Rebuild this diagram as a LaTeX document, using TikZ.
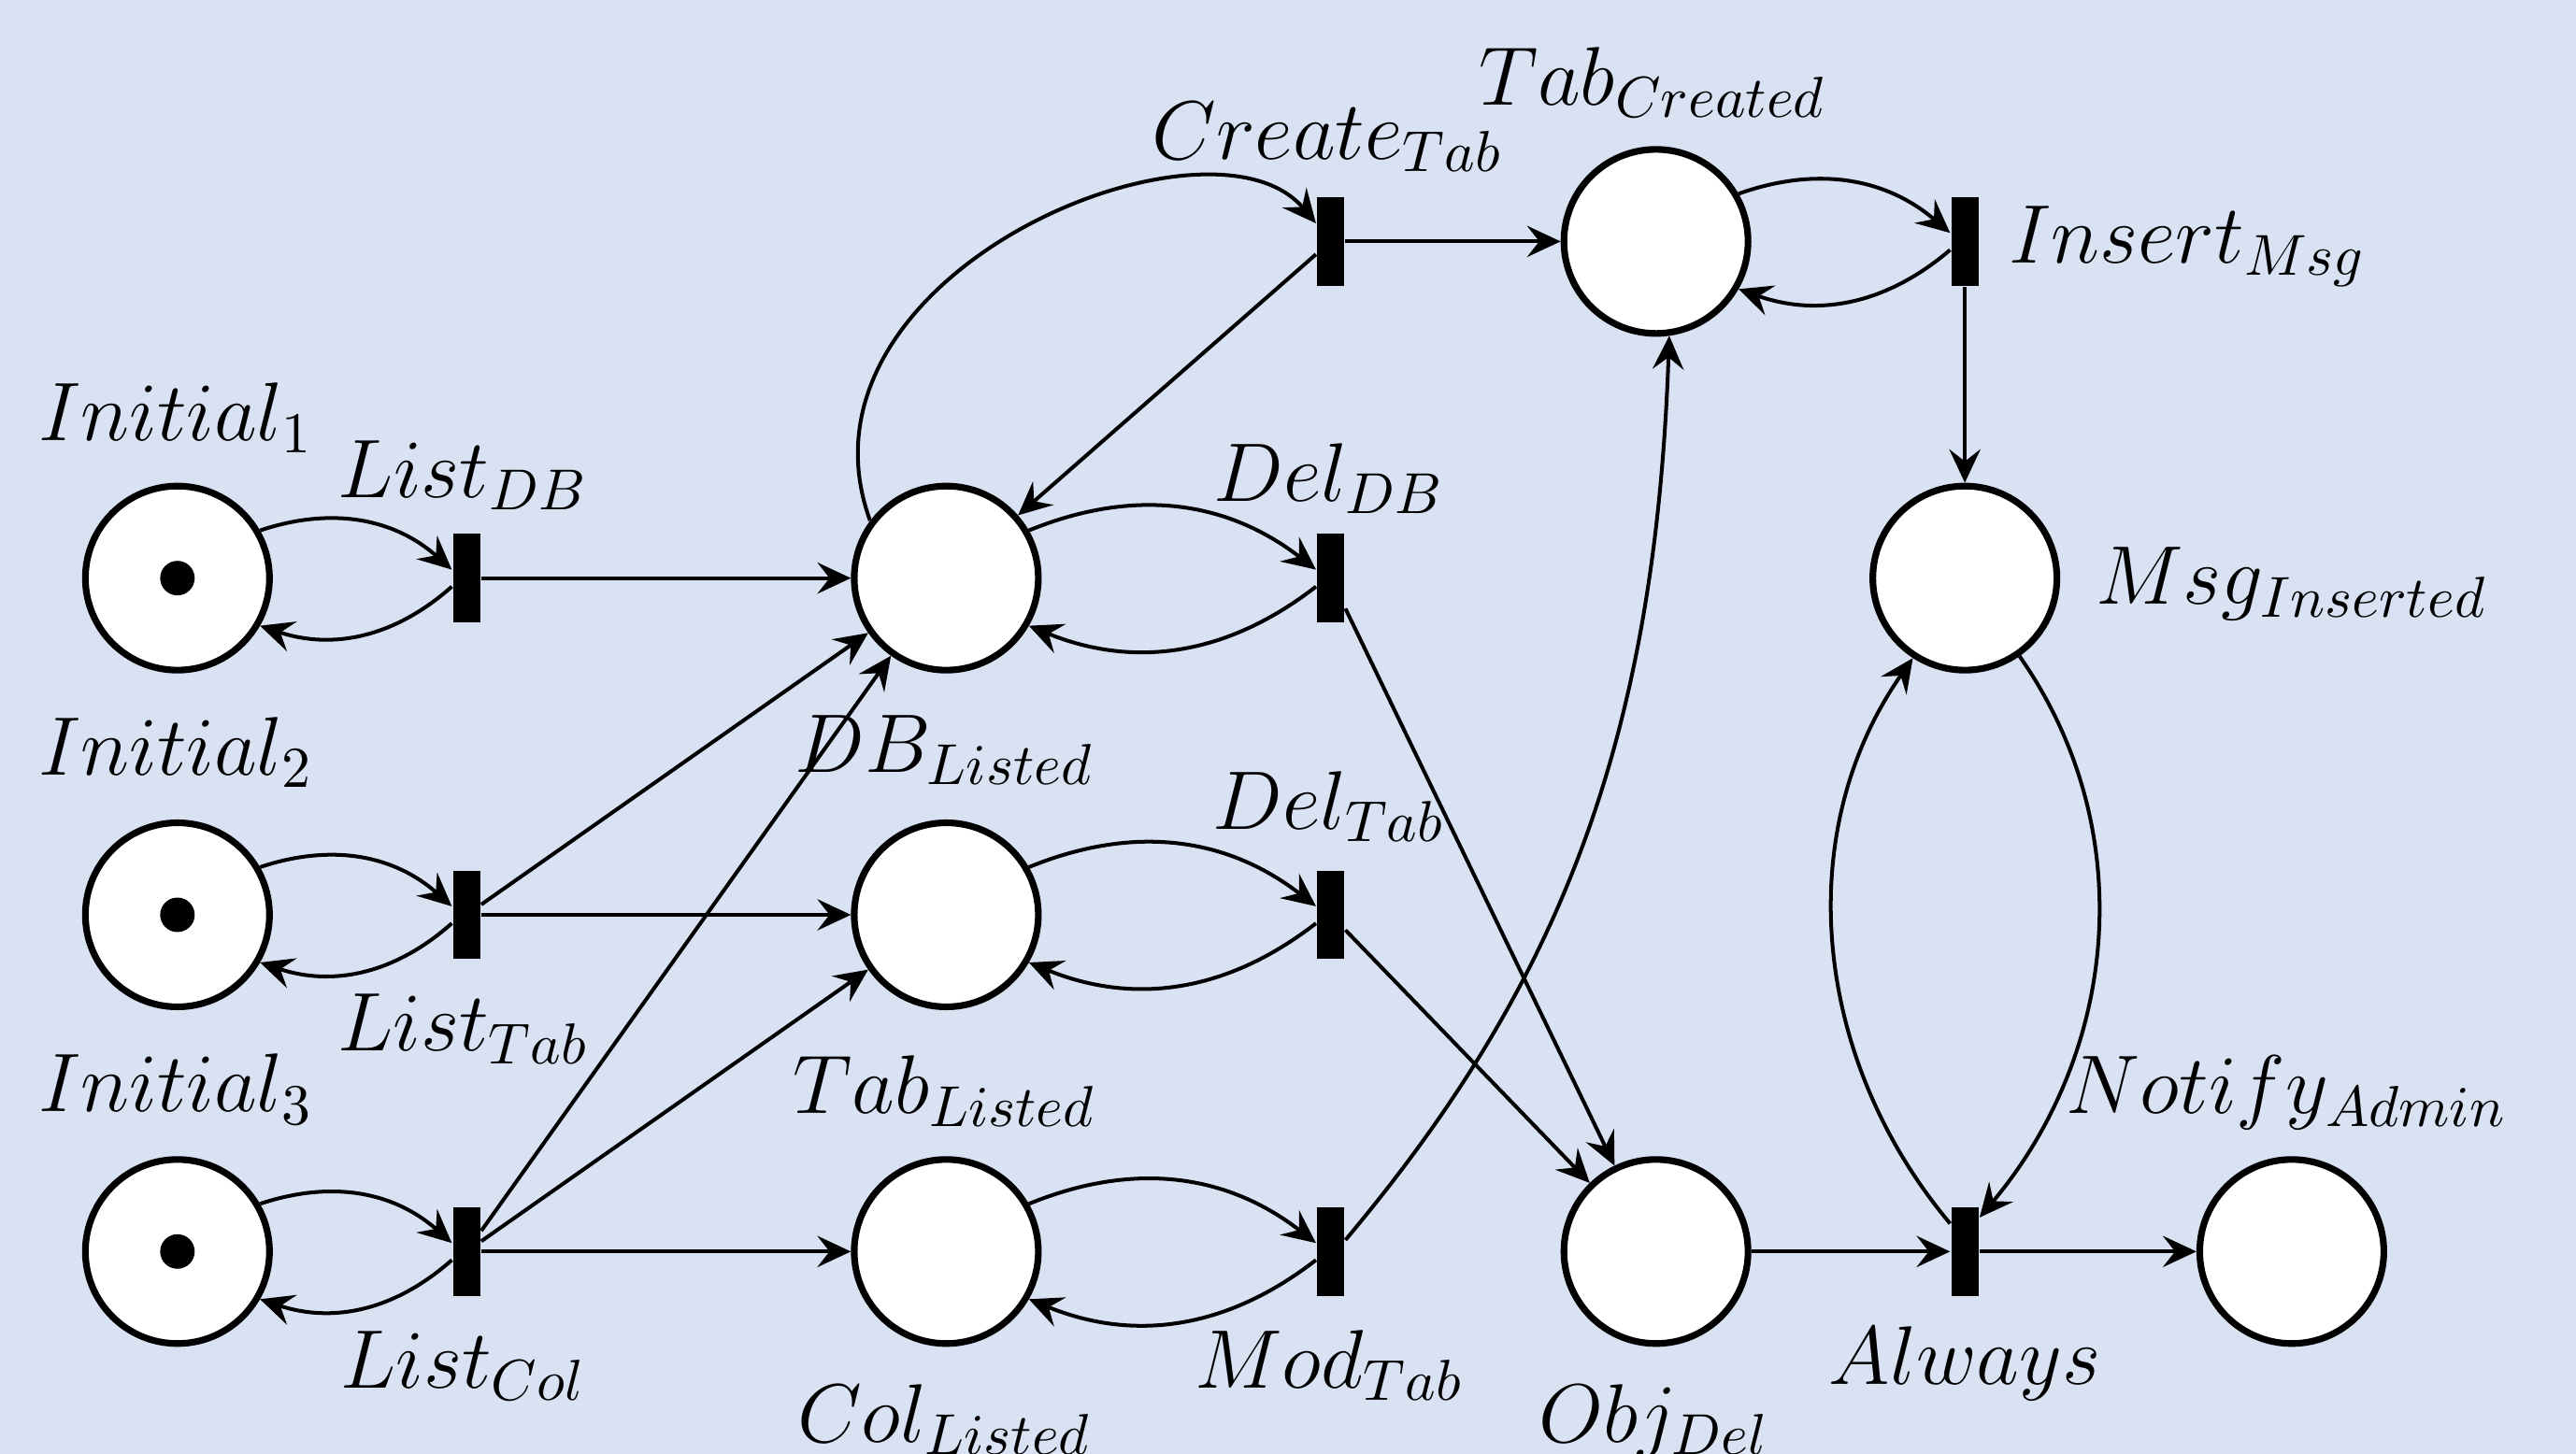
\documentclass[tikz,border=0pt]{standalone}
\usetikzlibrary{arrows.meta,calc}
\definecolor{bgblue}{RGB}{217,226,243}

\begin{document}
\begin{tikzpicture}[x=0.01cm,y=0.01cm,
  place/.style={circle,draw,line width=1.15pt,fill=white,minimum size=1.12cm,inner sep=0pt},
  trans/.style={rectangle,fill=black,minimum width=0.165cm,minimum height=0.54cm,inner sep=0pt},
  token/.style={circle,fill=black,minimum size=0.21cm,inner sep=0pt},
  lbl/.style={inner sep=0pt,anchor=base,font=\Large},
  lblw/.style={lbl,anchor=base west},
  arc/.style={line width=0.65pt,-{Stealth[length=5.8pt,width=5.4pt,inset=2.1pt]}}
]
% background and page size
\fill[bgblue] (0,0) rectangle (1568,885);
\useasboundingbox (0,0) rectangle (1568,885);

% places
\node[place] (I1) at (108,533) {};
\node[place] (I2) at (108,328) {};
\node[place] (I3) at (108,123) {};
\node[place] (DB) at (576,533) {};
\node[place] (TL) at (576,328) {};
\node[place] (CL) at (576,123) {};
\node[place] (TC) at (1008,738) {};
\node[place] (MI) at (1196,533) {};
\node[place] (OD) at (1008,123) {};
\node[place] (NA) at (1395,123) {};

% tokens
\node[token] (k1) at (I1) {};
\node[token] (k2) at (I2) {};
\node[token] (k3) at (I3) {};

% transitions
\node[trans] (tLDB) at (284,533) {};
\node[trans] (tLT)  at (284,328) {};
\node[trans] (tLC)  at (284,123) {};
\node[trans] (tCT)  at (810,738) {};
\node[trans] (tDDB) at (810,533) {};
\node[trans] (tDT)  at (810,328) {};
\node[trans] (tMT)  at (810,123) {};
\node[trans] (tIM)  at (1196,738) {};
\node[trans] (tAL)  at (1196,123) {};

% labels
\node[lbl] (lI1) at (107,617) {$Initial_1$};
\node[lbl] (lI2) at (107,413) {$Initial_2$};
\node[lbl] (lI3) at (107,208) {$Initial_3$};
\node[lbl] (lLDB) at (282,582) {$List_{DB}$};
\node[lbl] (lLT) at (282,245) {$List_{Tab}$};
\node[lbl] (lLC) at (282,40) {$List_{Col}$};
\node[lbl] (lDB) at (575,415) {$DB_{Listed}$};
\node[lbl] (lTL) at (575,207) {$Tab_{Listed}$};
\node[lbl] (lCL) at (575,7) {$Col_{Listed}$};
\node[lbl] (lCT) at (808,788) {$Create_{Tab}$};
\node[lbl] (lDDB) at (809,580) {$Del_{DB}$};
\node[lbl] (lDT) at (809,380) {$Del_{Tab}$};
\node[lbl] (lMT) at (809,40) {$Mod_{Tab}$};
\node[lbl] (lTC) at (1006,821) {$Tab_{Created}$};
\node[lblw] (lIM) at (1222,725) {$Insert_{Msg}$};
\node[lblw] (lMI) at (1275,517) {$Msg_{Inserted}$};
\node[lbl] (lOD) at (1007,7) {$Obj_{Del}$};
\node[lbl] (lAL) at (1196,42) {$Always$};
\node[lbl] (lNA) at (1392,207) {$Notify_{Admin}$};

% place <-> transition loops
\draw[arc] (I1) to[bend left=30] (tLDB);
\draw[arc] (tLDB) to[bend left=30] (I1);
\draw[arc] (I2) to[bend left=30] (tLT);
\draw[arc] (tLT) to[bend left=30] (I2);
\draw[arc] (I3) to[bend left=30] (tLC);
\draw[arc] (tLC) to[bend left=30] (I3);
\draw[arc] (DB) to[bend left=30] (tDDB);
\draw[arc] (tDDB) to[bend left=30] (DB);
\draw[arc] (TL) to[bend left=30] (tDT);
\draw[arc] (tDT) to[bend left=30] (TL);
\draw[arc] (CL) to[bend left=30] (tMT);
\draw[arc] (tMT) to[bend left=30] (CL);
\draw[arc] (TC) to[bend left=30] (tIM);
\draw[arc] (tIM) to[bend left=30] (TC);

% listing transitions
\draw[arc] (tLDB) -- (DB);
\draw[arc] (tLT) -- (DB);
\draw[arc] (tLT) -- (TL);
\draw[arc] (tLC) -- (DB);
\draw[arc] (tLC) -- (TL);
\draw[arc] (tLC) -- (CL);

% table creation
\draw[arc] (DB.143) .. controls +(110:160) and +(130:100) .. ([yshift=0.11cm]tCT.west);
\draw[arc] (tCT) -- (DB);
\draw[arc] (tCT) -- (TC);
\draw[arc] (tIM) -- (MI);

% deletion and modification
\draw[arc] (tDDB) -- (OD);
\draw[arc] (tDT) -- (OD);
\draw[arc] ([yshift=0.07cm]tMT.east) .. controls +(50:200) and +(-92:250) .. (TC.-82);

% notification
\draw[arc] (OD) -- (tAL);
\draw[arc] (tAL) -- (NA);
\draw[arc] ([yshift=0.17cm]tAL.west) .. controls +(130:130) and +(-125:130) .. (MI.-123);
\draw[arc] (MI.-55) .. controls +(-55:130) and +(50:130) .. ([yshift=-0.07cm]tAL.north east);
\end{tikzpicture}
\end{document}
